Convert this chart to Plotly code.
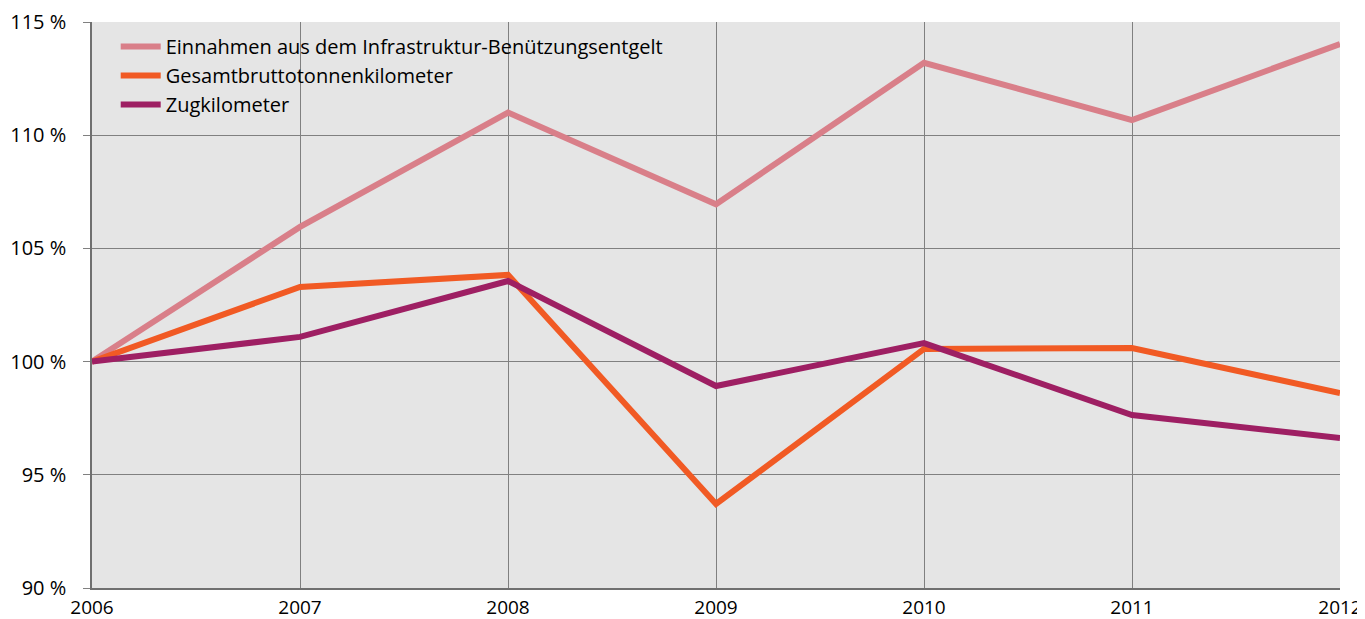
import plotly.graph_objects as go

years = [2006, 2007, 2008, 2009, 2010, 2011, 2012]
einnahmen = [100.0, 105.95, 111.0, 106.95, 113.2, 110.67, 114.03]
gesamt_btkm = [100.0, 103.3, 103.83, 93.71, 100.56, 100.6, 98.61]
zugkm = [100.0, 101.09, 103.56, 98.92, 100.82, 97.64, 96.63]

names = ["Einnahmen aus dem Infrastruktur-Benützungsentgelt",
         "Gesamtbruttotonnenkilometer",
         "Zugkilometer"]
colors = ["#d97f89", "#f15a24", "#9e1f63"]
series = [einnahmen, gesamt_btkm, zugkm]

fig = go.Figure()
for i, (n, c, s) in enumerate(zip(names, colors, series)):
    fig.add_trace(go.Scatter(
        x=years, y=s, name=n, mode="lines",
        line=dict(color=c, width=6),
        legendgroup=f"g{i}",
    ))

# legend backdrop: above gridlines, below the data lines
fig.add_shape(type="rect", xref="paper", yref="paper",
              x0=0.002, x1=0.488, y0=0.823, y1=0.982,
              fillcolor="#e5e5e5", line=dict(width=0), layer="between")

font = "Open Sans, Liberation Sans, sans-serif"
fig.update_layout(
    width=1365, height=611,
    margin=dict(l=84, r=33, t=14, b=31, autoexpand=False),
    paper_bgcolor="white",
    plot_bgcolor="#e5e5e5",
    font=dict(family=font, size=20, color="#000000"),
    showlegend=True,
    legend=dict(
        x=0.019, y=0.991, xanchor="left", yanchor="top",
        bgcolor="rgba(0,0,0,0)", borderwidth=0,
        font=dict(size=20, family=font),
        tracegroupgap=0,
        itemwidth=40,
    ),
    xaxis=dict(
        range=[2006, 2012], dtick=1, tick0=2006,
        showgrid=True, gridcolor="#808080", gridwidth=1,
        zeroline=False, showline=True, linecolor="#707070", linewidth=1.5,
        ticks="", tickfont=dict(size=19), ticklabelstandoff=1,
        automargin=False,
    ),
    yaxis=dict(
        range=[90, 115], dtick=5, tick0=90,
        ticksuffix=" %",
        showgrid=True, gridcolor="#808080", gridwidth=1,
        zeroline=False, showline=True, linecolor="#707070", linewidth=1.5,
        ticks="outside", ticklen=7, tickcolor="#808080",
        tickfont=dict(size=20), ticklabelstandoff=13,
        automargin=False,
    ),
)

fig.write_html("out.html")
